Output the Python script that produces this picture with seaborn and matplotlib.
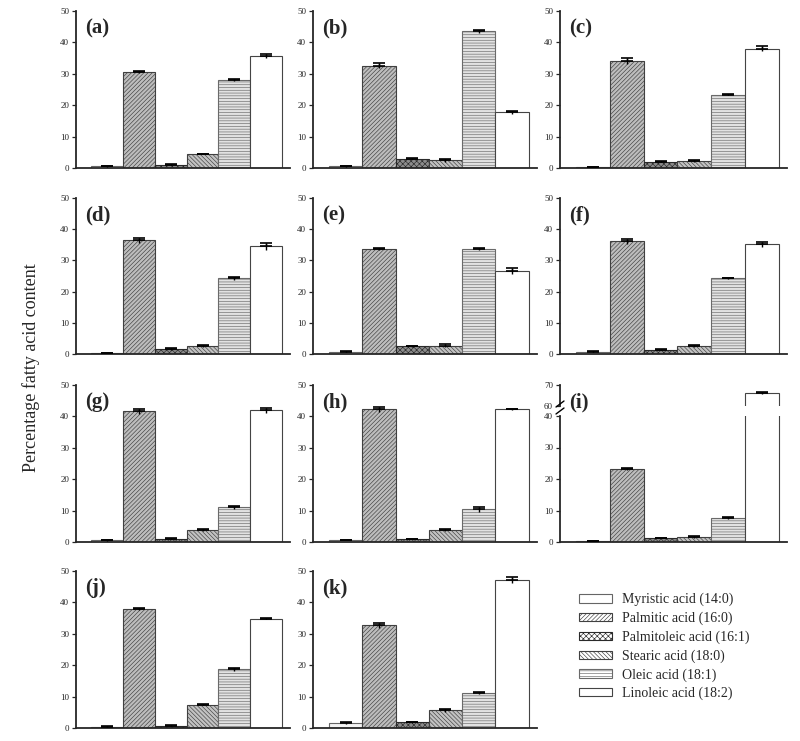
import numpy as np
import pandas as pd
import matplotlib.pyplot as plt
from matplotlib.patches import Patch
from matplotlib.lines import Line2D
import seaborn as sns

# fatty acids, in bar order
acids = ['Myristic acid (14:0)', 'Palmitic acid (16:0)', 'Palmitoleic acid (16:1)',
         'Stearic acid (18:0)', 'Oleic acid (18:1)', 'Linoleic acid (18:2)']
panels = ['(a)', '(b)', '(c)', '(d)', '(e)', '(f)', '(g)', '(h)', '(i)', '(j)', '(k)']

# mean percentage per panel
means = [
    [0.5, 30.6, 1.0, 4.5, 28.0, 35.6],
    [0.5, 32.6, 3.0, 2.4, 43.5, 17.7],
    [0.2, 34.0, 2.0, 2.3, 23.3, 38.0],
    [0.3, 36.4, 1.7, 2.5, 24.2, 34.5],
    [0.7, 33.6, 2.5, 2.7, 33.7, 26.7],
    [0.7, 36.1, 1.4, 2.5, 24.2, 35.2],
    [0.5, 41.6, 1.1, 3.7, 11.0, 41.9],
    [0.6, 42.2, 1.0, 3.7, 10.4, 42.2],
    [0.2, 23.3, 1.3, 1.6, 7.6, 66.3],
    [0.4, 37.9, 0.7, 7.4, 18.7, 34.8],
    [1.6, 32.7, 1.8, 5.6, 11.1, 47.2],
]
# error bars
errors = [
    [0.2, 0.3, 0.2, 0.1, 0.4, 0.6],
    [0.1, 0.9, 0.2, 0.4, 0.6, 0.5],
    [0.1, 0.9, 0.2, 0.3, 0.2, 0.7],
    [0.1, 0.9, 0.3, 0.3, 0.5, 1.2],
    [0.2, 0.3, 0.2, 0.5, 0.3, 0.9],
    [0.2, 0.8, 0.1, 0.4, 0.3, 0.8],
    [0.1, 0.8, 0.1, 0.3, 0.5, 0.8],
    [0.1, 0.9, 0.1, 0.3, 0.7, 0.3],
    [0.1, 0.3, 0.1, 0.2, 0.3, 0.4],
    [0.1, 0.3, 0.1, 0.2, 0.4, 0.2],
    [0.2, 0.8, 0.2, 0.4, 0.4, 0.9],
]

faces = ['#f4f4f4', '#bdbdbd', '#8c8c8c', '#c2c2c2', '#e2e2e2', 'white']
hatches = ['', '////////', 'xxxxxx', '\\\\\\\\\\\\\\\\', '------', '']
edges = ['#666666', '#404040', '#2a2a2a', '#404040', '#6a6a6a', '#444444']

sns.set_style('ticks')
plt.rcParams['font.family'] = ['Liberation Serif', 'DejaVu Serif']
plt.rcParams['hatch.linewidth'] = 0.45

W, H = 800, 741
fig = plt.figure(figsize=(8, 7.41), dpi=100)

cols = [(76, 290), (313, 537), (560, 787)]
rows = [(11, 168), (198, 354), (385, 542), (571, 728)]


def px_axes(x0, x1, ytop, ybot):
    return fig.add_axes([x0 / W, 1 - ybot / H, (x1 - x0) / W, (ybot - ytop) / H])


def draw(ax, vals, errs, ylim, ticks):
    df = pd.DataFrame({'acid': acids, 'value': vals})
    sns.barplot(data=df, x='acid', y='value', hue='acid',
                palette=dict(zip(acids, faces)), width=1.0, saturation=1,
                legend=False, ax=ax, linewidth=0.8)
    for p, h, ec in zip(ax.patches, hatches, edges):
        p.set_hatch(h)
        p.set_edgecolor(ec)
    x = np.arange(6)
    # stem through the bar top, cap only above
    ax.errorbar(x, vals, yerr=errs, fmt='none', ecolor='black',
                elinewidth=1.0, capsize=0, zorder=5)
    ax.errorbar(x, vals, yerr=[np.zeros(6), errs], fmt='none', ecolor='black',
                elinewidth=1.0, capsize=4, capthick=1.2, zorder=5)
    ax.set_xlim(-0.98, 5.75)
    ax.set_ylim(*ylim)
    ax.set_yticks(ticks)
    ax.set_xticks([])
    ax.set_xlabel('')
    ax.set_ylabel('')
    sns.despine(ax=ax)
    for s in ['left', 'bottom']:
        ax.spines[s].set_linewidth(1.3)
    ax.tick_params(axis='y', labelsize=6.5, length=3, width=0.9, pad=2)


for i, lab in enumerate(panels):
    r, c = divmod(i, 3)
    x0, x1 = cols[c]
    ytop, ybot = rows[r]
    if lab == '(i)':
        ax_lo = px_axes(x0, x1, 416, ybot)
        draw(ax_lo, means[i], errors[i], (0, 40), [0, 10, 20, 30, 40])
        ax_hi = px_axes(x0, x1, ytop, 406)
        draw(ax_hi, means[i], errors[i], (60, 70), [60, 70])
        ax_hi.spines['bottom'].set_visible(False)
        # break marks on the y axis
        for yb in (404, 411):
            fig.add_artist(Line2D([(x0 - 4) / W, (x0 + 4) / W],
                                  [1 - (yb + 3) / H, 1 - (yb - 3) / H],
                                  color='black', lw=1.0))
    else:
        ax = px_axes(x0, x1, ytop, ybot)
        draw(ax, means[i], errors[i], (0, 50), [0, 10, 20, 30, 40, 50])
    fig.text((x0 + 9) / W, 1 - (ytop + 17) / H, lab, fontsize=15,
             fontweight='bold', va='center', ha='left')

fig.text(31 / W, 1 - 368 / H, 'Percentage fatty acid content', rotation=90,
         fontsize=13, va='center', ha='center')

handles = [Patch(facecolor='white', edgecolor=ec, hatch=h, linewidth=0.8)
           for h, ec in zip(hatches, edges)]
fig.legend(handles, acids, loc='upper left', bbox_to_anchor=(579 / W, 1 - 593 / H),
           frameon=False, fontsize=10, handlelength=2.4, handleheight=0.55,
           labelspacing=0.38, handletextpad=0.7, borderpad=0, borderaxespad=0)

fig.savefig('out.png', dpi=100)
